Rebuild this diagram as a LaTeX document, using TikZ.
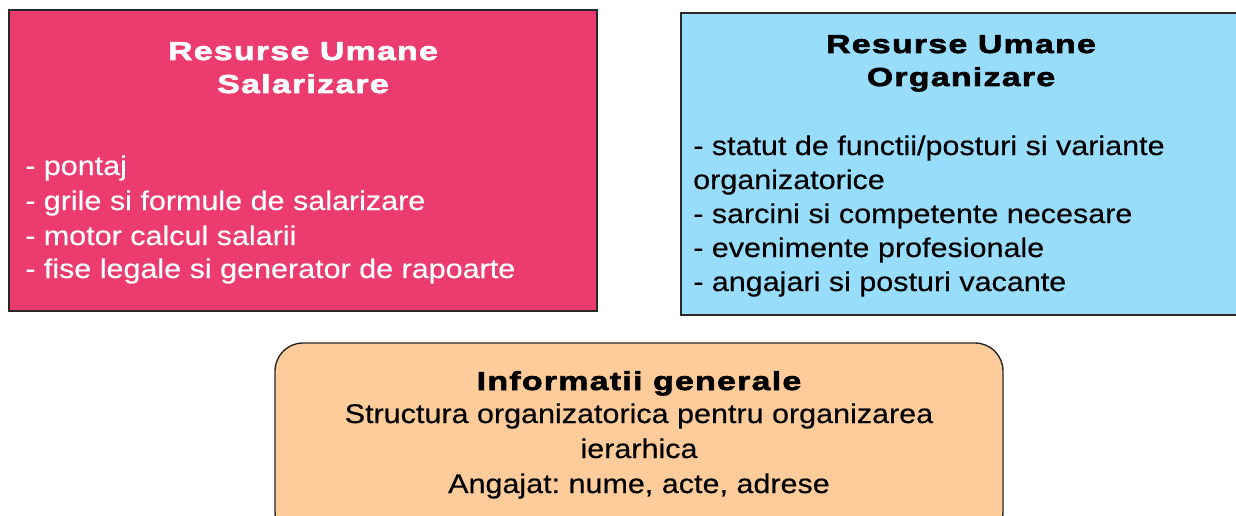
\documentclass[tikz,border=0pt]{standalone}
\usepackage{fontspec}
\setmainfont{Liberation Sans}[FakeStretch=1.13,FakeBold=0.4]
\newfontfamily\titlefont{Liberation Sans Bold}[FakeStretch=1.3,LetterSpace=5,FakeBold=2.5]
\definecolor{pinkbox}{RGB}{236,59,110}
\definecolor{bluebox}{RGB}{153,221,252}
\definecolor{peachbox}{RGB}{253,204,154}
\definecolor{edgegray}{RGB}{40,40,40}
\frenchspacing
\tikzset{
  boxshape/.style={draw=edgegray, line width=1.4pt},
  bodytext/.style={inner sep=0pt, font=\fontsize{27}{34}\selectfont},
  titletext/.style={inner sep=0pt, font=\titlefont\fontsize{26}{33}\selectfont},
}
\begin{document}
\begin{tikzpicture}[x=1pt,y=-1pt]
\useasboundingbox (0,0) rectangle (1236,516);
% boxes
\draw[boxshape, fill=pinkbox] (9,10) rectangle (597,311);
\draw[boxshape, fill=bluebox] (681,13) rectangle (1250,315);
\draw[boxshape, fill=peachbox, rounded corners=28pt] (275,343) rectangle (1003,540);
% box 1
\node[titletext, text=white, anchor=base] (t1a) at (303,60) {Resurse Umane};
\node[titletext, text=white, anchor=base] (t1b) at (303,93) {Salarizare};
\node[bodytext, text=white, anchor=base west] (b1a) at (25,175) {- pontaj};
\node[bodytext, text=white, anchor=base west] (b1b) at (25,210) {- grile si formule de salarizare};
\node[bodytext, text=white, anchor=base west] (b1c) at (25,245) {- motor calcul salarii};
\node[bodytext, text=white, anchor=base west] (b1d) at (25,278) {- fise legale si generator de rapoarte};
% box 2
\node[titletext, anchor=base] (t2a) at (961,53) {Resurse Umane};
\node[titletext, anchor=base] (t2b) at (961,86) {Organizare};
\node[bodytext, anchor=base west] (b2a) at (693,155) {- statut de functii/posturi si variante};
\node[bodytext, anchor=base west] (b2b) at (693,189) {organizatorice};
\node[bodytext, anchor=base west] (b2c) at (693,223) {- sarcini si competente necesare};
\node[bodytext, anchor=base west] (b2d) at (693,257) {- evenimente profesionale};
\node[bodytext, anchor=base west] (b2e) at (693,291) {- angajari si posturi vacante};
% box 3
\node[titletext, anchor=base] (t3a) at (639,390) {Informatii generale};
\node[bodytext, anchor=base] (b3a) at (639,423) {Structura organizatorica pentru organizarea};
\node[bodytext, anchor=base] (b3b) at (639,458) {ierarhica};
\node[bodytext, anchor=base] (b3c) at (639,493) {Angajat: nume, acte, adrese};
\end{tikzpicture}
\end{document}
